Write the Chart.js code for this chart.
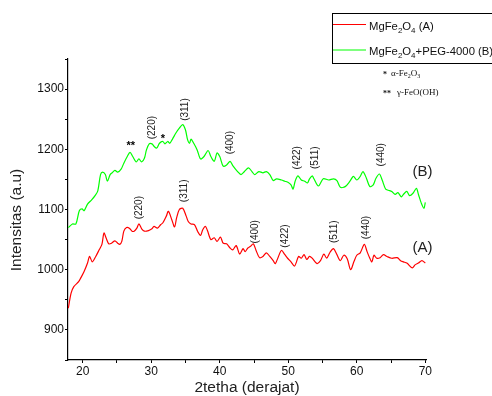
<!DOCTYPE html>
<html>
<head>
<meta charset="utf-8">
<script src="https://cdn.jsdelivr.net/npm/chart.js@4.4.0/dist/chart.umd.min.js"></script>
<style>body{margin:0;background:#fff}</style>
</head>
<body>
<canvas id="myChart" width="492" height="396"></canvas>
<script>
// MgFe2O4 (A)
var thetaA = [17.9,18.3,18.7,19.4,19.7,20.2,20.7,21.0,21.4,21.9,22.4,22.8,23.1,23.4,23.8,24.2,24.7,25.1,25.4,25.7,
  26.0,26.4,26.8,27.2,27.5,27.9,28.2,28.6,29.0,29.6,30.1,30.4,30.9,31.4,31.7,32.2,32.5,33.0,33.4,33.7,
  34.1,34.6,35.1,35.4,35.8,36.3,36.8,37.2,37.5,37.9,38.2,38.7,39.2,39.6,40.1,40.5,41.0,41.5,41.9,42.4,
  42.9,43.4,43.7,44.1,44.5,44.9,45.3,45.8,46.3,46.8,47.3,47.8,48.1,48.5,49.0,49.5,49.9,50.4,50.9,51.2,
  51.5,51.9,52.3,52.7,53.1,53.5,54.2,54.7,55.2,55.6,56.1,56.6,57.1,57.6,58.1,58.6,59.1,59.6,60.0,60.5,
  61.1,61.5,61.9,62.2,62.5,62.9,63.4,63.9,64.4,65.1,65.9,66.4,66.8,67.3,68.1,68.5,69.0,69.5,70.0];
var intensA = [936,961,972,980,986,997,1011,1022,1013,1022,1033,1042,1061,1053,1043,1044,1048,1044,1042,1047,
  1064,1070,1069,1064,1064,1069,1076,1068,1064,1065,1068,1072,1069,1075,1078,1089,1097,1083,1071,1086,
  1100,1102,1089,1080,1076,1075,1063,1057,1066,1072,1065,1050,1053,1047,1054,1044,1043,1036,1033,1040,
  1026,1035,1030,1036,1039,1043,1032,1020,1022,1028,1022,1015,1010,1020,1032,1025,1019,1013,1006,1013,
  1022,1019,1025,1017,1022,1019,1010,1015,1026,1019,1029,1035,1025,1015,1024,1018,1000,1014,1024,1028,
  1042,1030,1019,1013,1024,1019,1020,1025,1022,1019,1020,1015,1013,1011,1003,1008,1011,1015,1011];

// MgFe2O4+PEG-4000 (B)
var thetaB = [17.9,18.5,19.0,19.5,19.9,20.2,20.7,21.3,21.8,22.2,22.6,22.9,23.3,23.6,24.0,24.3,24.7,25.1,25.6,26.0,
  26.5,26.9,27.3,27.8,28.2,28.6,29.0,29.3,29.7,30.1,30.4,30.8,31.2,31.7,32.0,32.4,32.7,33.1,33.6,34.1,
  34.6,35.0,35.3,35.6,35.8,36.2,36.7,37.2,37.7,38.3,38.7,39.2,39.6,40.0,40.5,41.0,41.5,41.9,42.6,43.1,
  43.6,44.2,44.7,45.1,45.7,46.3,46.8,47.3,47.8,48.3,49.0,49.5,50.0,50.4,50.7,51.0,51.4,51.9,52.4,52.8,
  53.1,53.5,53.7,54.4,55.1,55.9,56.6,57.1,57.6,58.3,59.0,59.5,60.0,60.5,60.9,61.4,61.9,62.4,62.8,63.3,
  63.7,64.2,64.6,65.1,65.6,66.0,66.5,66.8,67.3,67.7,68.2,68.7,69.0,69.4,69.8,70.0];
var intensB = [1070,1076,1076,1098,1101,1098,1109,1116,1123,1131,1158,1162,1158,1147,1158,1161,1165,1162,1167,1177,
  1188,1195,1188,1179,1184,1179,1185,1199,1209,1209,1205,1202,1210,1213,1209,1213,1210,1217,1227,1235,
  1241,1232,1216,1210,1217,1210,1199,1184,1188,1198,1188,1180,1194,1188,1172,1174,1180,1173,1163,1158,
  1163,1169,1163,1158,1163,1161,1163,1158,1148,1151,1149,1147,1145,1141,1134,1147,1156,1149,1147,1144,
  1151,1156,1152,1139,1151,1149,1151,1148,1137,1138,1147,1155,1149,1155,1163,1152,1138,1141,1152,1159,
  1149,1134,1132,1130,1125,1128,1121,1125,1130,1123,1127,1135,1125,1111,1102,1112];

var xTicks = [20,25,30,35,40,45,50,55,60,65,70];
var yTicks = [850,900,950,1000,1050,1100,1150,1200,1250,1300,1350];

// peak labels (hkl), placed at [2theta, intensity]
var peakText = ["(220)","(311)","(400)","(422)","(511)","(440)","(220)","(311)","(400)","(422)","(511)","(440)"];
var peakX = [30.1,34.9,41.6,51.3,53.9,63.6, 28.3,34.8,45.2,49.5,56.7,61.4];
var peakY = [1236,1266,1211,1186,1186,1191, 1103,1131,1063,1056,1063,1070];
var starText = ["**","*"];
var starX = [27.0,31.7];
var starY = [1205,1217];
var curveText = ["(B)","(A)"];
var curveX = [69.6,69.6];
var curveY = [1163,1037];

function toPoints(xs, ys) {
  var pts = [];
  for (var i = 0; i < xs.length; i++) pts.push({x: xs[i], y: ys[i]});
  return pts;
}

function richText(ctx, parts, x, y) {
  for (var i = 0; i < parts.length; i++) {
    var sub = parts[i][1];
    ctx.font = sub ? "8px 'Liberation Sans', Arial" : "11.3px 'Liberation Sans', Arial";
    ctx.fillText(parts[i][0], x, sub ? y + 3 : y);
    x += ctx.measureText(parts[i][0]).width;
  }
}

var extras = {
  id: 'extras',
  afterDraw: function(chart) {
    var ctx = chart.ctx, xs = chart.scales.x, ys = chart.scales.y;
    ctx.save();
    ctx.fillStyle = '#222';
    ctx.textAlign = 'center';
    ctx.textBaseline = 'middle';
    ctx.font = "10px 'Liberation Sans', Arial";
    for (var i = 0; i < peakText.length; i++) {
      ctx.save();
      ctx.translate(xs.getPixelForValue(peakX[i]), ys.getPixelForValue(peakY[i]));
      ctx.rotate(-Math.PI / 2);
      ctx.fillText(peakText[i], 0, 0);
      ctx.restore();
    }
    ctx.fillStyle = '#000';
    ctx.font = "bold 11px 'Liberation Sans', Arial";
    for (var j = 0; j < starText.length; j++) {
      ctx.fillText(starText[j], xs.getPixelForValue(starX[j]), ys.getPixelForValue(starY[j]));
    }
    ctx.fillStyle = '#222';
    ctx.font = "15px 'Liberation Sans', Arial";
    for (var k = 0; k < curveText.length; k++) {
      ctx.fillText(curveText[k], xs.getPixelForValue(curveX[k]), ys.getPixelForValue(curveY[k]));
    }

    // axis titles
    ctx.font = "15.5px 'Liberation Sans', Arial";
    ctx.fillText('2tetha (derajat)', 247, 388);
    ctx.save();
    ctx.translate(17, 220);
    ctx.rotate(-Math.PI / 2);
    ctx.fillText('Intensitas (a.u)', 0, 0);
    ctx.restore();

    // legend
    ctx.strokeStyle = '#000';
    ctx.lineWidth = 1;
    ctx.strokeRect(332.5, 13.5, 170, 50);
    ctx.lineWidth = 1.2;
    ctx.strokeStyle = '#ff0000';
    ctx.beginPath(); ctx.moveTo(333, 24.5); ctx.lineTo(366, 24.5); ctx.stroke();
    ctx.strokeStyle = '#00ff00';
    ctx.beginPath(); ctx.moveTo(333, 50); ctx.lineTo(366, 50); ctx.stroke();
    ctx.textAlign = 'left';
    ctx.textBaseline = 'alphabetic';
    ctx.fillStyle = '#111';
    richText(ctx, [['MgFe',0],['2',1],['O',0],['4',1],[' (A)',0]], 369, 30);
    richText(ctx, [['MgFe',0],['2',1],['O',0],['4',1],['+PEG-4000 (B)',0]], 369, 55);

    ctx.font = "bold 8px 'Liberation Serif', serif";
    ctx.fillText('*', 383, 77);
    ctx.fillText('**', 383, 96);
    ctx.font = "9px 'Liberation Serif', serif";
    ctx.fillText('\u03b1-Fe', 391, 76);
    var w = ctx.measureText('\u03b1-Fe').width;
    ctx.font = "6px 'Liberation Serif', serif";
    ctx.fillText('2', 391 + w, 78);
    var w2 = ctx.measureText('2').width;
    ctx.font = "9px 'Liberation Serif', serif";
    ctx.fillText('O', 391 + w + w2, 76);
    var w3 = ctx.measureText('O').width;
    ctx.font = "6px 'Liberation Serif', serif";
    ctx.fillText('3', 391 + w + w2 + w3, 78);
    ctx.font = "9px 'Liberation Serif', serif";
    ctx.fillText('\u03b3-FeO(OH)', 397, 95);
    ctx.restore();
  }
};

var ctx = document.getElementById('myChart').getContext('2d');
var chart = new Chart(ctx, {
  type: 'line',
  data: {
    datasets: [{
      label: 'MgFe2O4 (A)',
      data: toPoints(thetaA, intensA),
      borderColor: '#ff0000',
      borderWidth: 1.2,
      pointRadius: 0,
      fill: false,
      tension: 0.3
    }, {
      label: 'MgFe2O4+PEG-4000 (B)',
      data: toPoints(thetaB, intensB),
      borderColor: '#00ff00',
      borderWidth: 1.2,
      pointRadius: 0,
      fill: false,
      tension: 0.3
    }]
  },
  options: {
    responsive: false,
    animation: false,
    layout: {padding: {top: 59, right: 66, left: 0, bottom: 0}},
    plugins: {legend: {display: false}, tooltip: {enabled: false}},
    scales: {
      x: {
        type: 'linear',
        min: 17.85,
        max: 70.1,
        afterBuildTicks: function(s) { s.ticks = xTicks.map(function(v) { return {value: v}; }); },
        afterFit: function(s) { s.height = 36; },
        ticks: {
          color: '#111',
          padding: 1,
          maxRotation: 0,
          font: {family: "'Liberation Sans', Arial", size: 12},
          callback: function(v) { return v % 10 === 0 ? v : ''; }
        },
        grid: {drawOnChartArea: false, drawTicks: true, tickLength: 3, color: '#000'},
        border: {color: '#000', width: 1.2}
      },
      y: {
        min: 850,
        max: 1350,
        afterBuildTicks: function(s) { s.ticks = yTicks.map(function(v) { return {value: v}; }); },
        afterFit: function(s) { s.width = 68; },
        ticks: {
          color: '#111',
          padding: 1,
          font: {family: "'Liberation Sans', Arial", size: 12},
          callback: function(v) { return v % 100 === 0 ? v : ''; }
        },
        grid: {drawOnChartArea: false, drawTicks: true, tickLength: 3, color: '#000'},
        border: {color: '#000', width: 1.2}
      }
    }
  },
  plugins: [extras]
});
</script>
</body>
</html>
